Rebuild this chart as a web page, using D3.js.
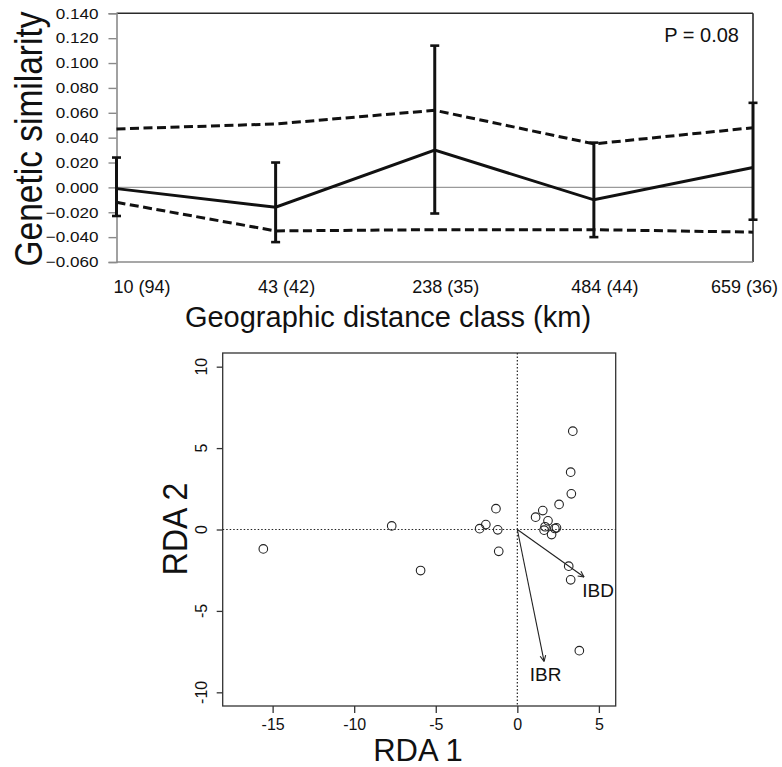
<!DOCTYPE html>
<html>
<head>
<meta charset="utf-8">
<script src="https://cdn.jsdelivr.net/npm/d3@7/dist/d3.min.js"></script>
<style>
  html, body { margin: 0; padding: 0; background: #fff; }
  svg text { font-family: "Liberation Sans", Arial, sans-serif; fill: #111; }
</style>
</head>
<body>
<svg id="fig" width="782" height="767"></svg>
<script>
// ---- Correlogram: genetic similarity by distance class ----
const distClasses = ["10 (94)", "43 (42)", "238 (35)", "484 (44)", "659 (36)"];
const similarity  = [-0.001, -0.016, 0.030, -0.010, 0.016];
const errLow      = [-0.023, -0.044, -0.021, -0.040, -0.026];
const errHigh     = [0.024, 0.020, 0.114, 0.036, 0.068];
const ciUpper     = [0.047, 0.051, 0.062, 0.035, 0.048];
const ciLower     = [-0.012, -0.035, -0.034, -0.034, -0.036];
const simTicks    = [-0.06, -0.04, -0.02, 0, 0.02, 0.04, 0.06, 0.08, 0.10, 0.12, 0.14];
const pLabel      = "P = 0.08";

// ---- RDA biplot: site scores and explanatory vectors ----
const siteRDA1 = [-15.57, -7.70, -5.93, -2.31, -1.93, -1.31, -1.20, -1.14,
                  1.12, 1.56, 1.88, 1.70, 1.64, 2.30, 2.40, 2.10,
                  2.56, 3.31, 3.27, 3.40, 3.15, 3.27, 3.80];
const siteRDA2 = [-1.19, 0.22, -2.52, 0.05, 0.30, 1.28, -0.02, -1.34,
                  0.76, 1.16, 0.53, 0.17, -0.04, 0.06, 0.10, -0.31,
                  1.54, 2.19, 3.52, 6.04, -2.25, -3.09, -7.44];
const vectorNames = ["IBD", "IBR"];
const vectorRDA1  = [4.09, 1.64];
const vectorRDA2  = [-2.92, -8.10];
const vectorLabelRDA1 = [4.95, 1.73];
const vectorLabelRDA2 = [-3.72, -8.92];
const rdaTicks = [-15, -10, -5, 0, 5];
const rda2Ticks = [-10, -5, 0, 5, 10];

const svg = d3.select("#fig");

// ================= Top panel =================
const topBox = { left: 116.5, right: 753, top: 13.3, bottom: 262 };
const x1 = d3.scalePoint().domain(distClasses).range([topBox.left, topBox.right]);
const y1 = d3.scaleLinear().domain([-0.06, 0.14]).range([topBox.bottom, topBox.top]);
const g1 = svg.append("g");

// frame: dark top/right, grey left/bottom axis lines
g1.append("line").attr("x1", topBox.left).attr("x2", topBox.right).attr("y1", topBox.top).attr("y2", topBox.top)
  .attr("stroke", "#2a2a2a").attr("stroke-width", 1.6);
g1.append("line").attr("x1", topBox.right).attr("x2", topBox.right).attr("y1", topBox.top).attr("y2", topBox.bottom)
  .attr("stroke", "#2a2a2a").attr("stroke-width", 1.6);

const yAxis1 = d3.axisLeft(y1).tickValues(simTicks).tickSize(8).tickPadding(10)
  .tickFormat(d3.format(".3f"));
const ga = g1.append("g").attr("transform", `translate(${topBox.left},0)`).call(yAxis1);
ga.select(".domain").attr("stroke", "#8a8a8a").attr("stroke-width", 1.6);
ga.selectAll(".tick line").attr("stroke", "#8a8a8a").attr("stroke-width", 1.4);
ga.selectAll(".tick text")
  .attr("font-size", 15)
  .attr("fill", "#111")
  .attr("font-family", "'Liberation Sans', Arial, sans-serif")
  .attr("transform", function () {
    // widen labels slightly around their right edge
    const xx = +d3.select(this).attr("x");
    return `translate(${xx},0) scale(1.14,1) translate(${-xx},0)`;
  });

g1.append("line").attr("x1", topBox.left).attr("x2", topBox.right)
  .attr("y1", topBox.bottom).attr("y2", topBox.bottom)
  .attr("stroke", "#8a8a8a").attr("stroke-width", 1.6);

// zero reference line
g1.append("line").attr("x1", topBox.left).attr("x2", topBox.right)
  .attr("y1", y1(0)).attr("y2", y1(0))
  .attr("stroke", "#9a9a9a").attr("stroke-width", 1.4);

// confidence envelope
const line1 = d3.line().x((d, i) => x1(distClasses[i])).y(d => y1(d));
[ciUpper, ciLower].forEach(arr => {
  g1.append("path").attr("d", line1(arr)).attr("fill", "none")
    .attr("stroke", "#111").attr("stroke-width", 3).attr("stroke-dasharray", "9,4.5");
});

// error bars
distClasses.forEach((c, i) => {
  const xx = x1(c);
  g1.append("line").attr("x1", xx).attr("x2", xx).attr("y1", y1(errLow[i])).attr("y2", y1(errHigh[i]))
    .attr("stroke", "#111").attr("stroke-width", 3);
  [errLow[i], errHigh[i]].forEach(v => {
    g1.append("line").attr("x1", xx - 4.5).attr("x2", xx + 4.5).attr("y1", y1(v)).attr("y2", y1(v))
      .attr("stroke", "#111").attr("stroke-width", 2.6);
  });
});

// mean similarity
g1.append("path").attr("d", line1(similarity)).attr("fill", "none")
  .attr("stroke", "#111").attr("stroke-width", 3).attr("stroke-linejoin", "miter");

// category labels
distClasses.forEach((c, i) => {
  const n = distClasses.length;
  const anchor = i === 0 ? "start" : (i === n - 1 ? "end" : "middle");
  const dx = i === 0 ? -3 : (i === n - 1 ? 25 : 11);
  g1.append("text").attr("x", x1(c) + dx).attr("y", 293)
    .attr("text-anchor", anchor).attr("font-size", 18).text(c);
});

g1.append("text").attr("x", 739).attr("y", 41.5).attr("text-anchor", "end")
  .attr("font-size", 20).text(pLabel);

g1.append("text").attr("x", 388).attr("y", 327).attr("text-anchor", "middle")
  .attr("font-size", 29).text("Geographic distance class (km)");

g1.append("text").attr("text-anchor", "middle").attr("font-size", 33.5)
  .attr("transform", "translate(42,139) rotate(-90) scale(1,1.18)")
  .text("Genetic similarity");

// ================= Bottom panel =================
const botBox = { left: 222.7, right: 615.7, top: 353, bottom: 706 };
const x2 = d3.scaleLinear().domain([-18.06, 6.03]).range([botBox.left, botBox.right]);
const y2 = d3.scaleLinear().domain([-10.84, 10.84]).range([botBox.bottom, botBox.top]);
const g2 = svg.append("g");

g2.append("rect").attr("x", botBox.left).attr("y", botBox.top)
  .attr("width", botBox.right - botBox.left).attr("height", botBox.bottom - botBox.top)
  .attr("fill", "none").attr("stroke", "#333").attr("stroke-width", 1.3);

const xAxis2 = d3.axisBottom(x2).tickValues(rdaTicks).tickSize(7).tickPadding(6).tickFormat(d3.format("d"));
const gx2 = g2.append("g").attr("transform", `translate(0,${botBox.bottom})`).call(xAxis2);
gx2.select(".domain").remove();
gx2.selectAll(".tick line").attr("stroke", "#333").attr("stroke-width", 1.3);
gx2.selectAll(".tick text").attr("font-size", 16).attr("fill", "#111")
  .attr("font-family", "'Liberation Sans', Arial, sans-serif")
  .text(d => d < 0 ? "-" + Math.abs(d) : d);

const yAxis2 = d3.axisLeft(y2).tickValues(rda2Ticks).tickSize(6).tickFormat("");
const gy2 = g2.append("g").attr("transform", `translate(${botBox.left},0)`).call(yAxis2);
gy2.select(".domain").remove();
gy2.selectAll(".tick line").attr("stroke", "#333").attr("stroke-width", 1.3);
rda2Ticks.forEach(t => {
  g2.append("text").attr("text-anchor", "middle").attr("font-size", 16)
    .attr("transform", `translate(207,${y2(t)}) rotate(-90)`)
    .text(t < 0 ? "-" + Math.abs(t) : t);
});

// dotted origin lines
g2.append("line").attr("x1", botBox.left).attr("x2", botBox.right).attr("y1", y2(0)).attr("y2", y2(0))
  .attr("stroke", "#222").attr("stroke-width", 1.2).attr("stroke-dasharray", "1.5,2");
g2.append("line").attr("x1", x2(0)).attr("x2", x2(0)).attr("y1", botBox.top).attr("y2", botBox.bottom)
  .attr("stroke", "#222").attr("stroke-width", 1.2).attr("stroke-dasharray", "1.5,2");

// site scores
g2.selectAll("circle.site").data(siteRDA1.map((v, i) => [v, siteRDA2[i]])).enter()
  .append("circle").attr("class", "site")
  .attr("cx", d => x2(d[0])).attr("cy", d => y2(d[1])).attr("r", 4.3)
  .attr("fill", "none").attr("stroke", "#222").attr("stroke-width", 1.1);

// explanatory vectors with open arrowheads
vectorNames.forEach((name, i) => {
  const x0 = x2(0), y0 = y2(0);
  const xe = x2(vectorRDA1[i]), ye = y2(vectorRDA2[i]);
  g2.append("line").attr("x1", x0).attr("y1", y0).attr("x2", xe).attr("y2", ye)
    .attr("stroke", "#222").attr("stroke-width", 1.1);
  const ang = Math.atan2(ye - y0, xe - x0);
  const L = 6.5, spread = Math.PI / 7;
  [ang + Math.PI - spread, ang + Math.PI + spread].forEach(a => {
    g2.append("line").attr("x1", xe).attr("y1", ye)
      .attr("x2", xe + L * Math.cos(a)).attr("y2", ye + L * Math.sin(a))
      .attr("stroke", "#222").attr("stroke-width", 1.1);
  });
  g2.append("text").attr("x", x2(vectorLabelRDA1[i])).attr("y", y2(vectorLabelRDA2[i]))
    .attr("dy", "0.35em").attr("text-anchor", "middle").attr("font-size", 19).text(name);
});

g2.append("text").attr("x", 418).attr("y", 761).attr("text-anchor", "middle")
  .attr("font-size", 31).text("RDA 1");
g2.append("text").attr("text-anchor", "middle").attr("font-size", 32)
  .attr("transform", "translate(187,529) rotate(-90) scale(1,1.08)")
  .text("RDA 2");
</script>
</body>
</html>
